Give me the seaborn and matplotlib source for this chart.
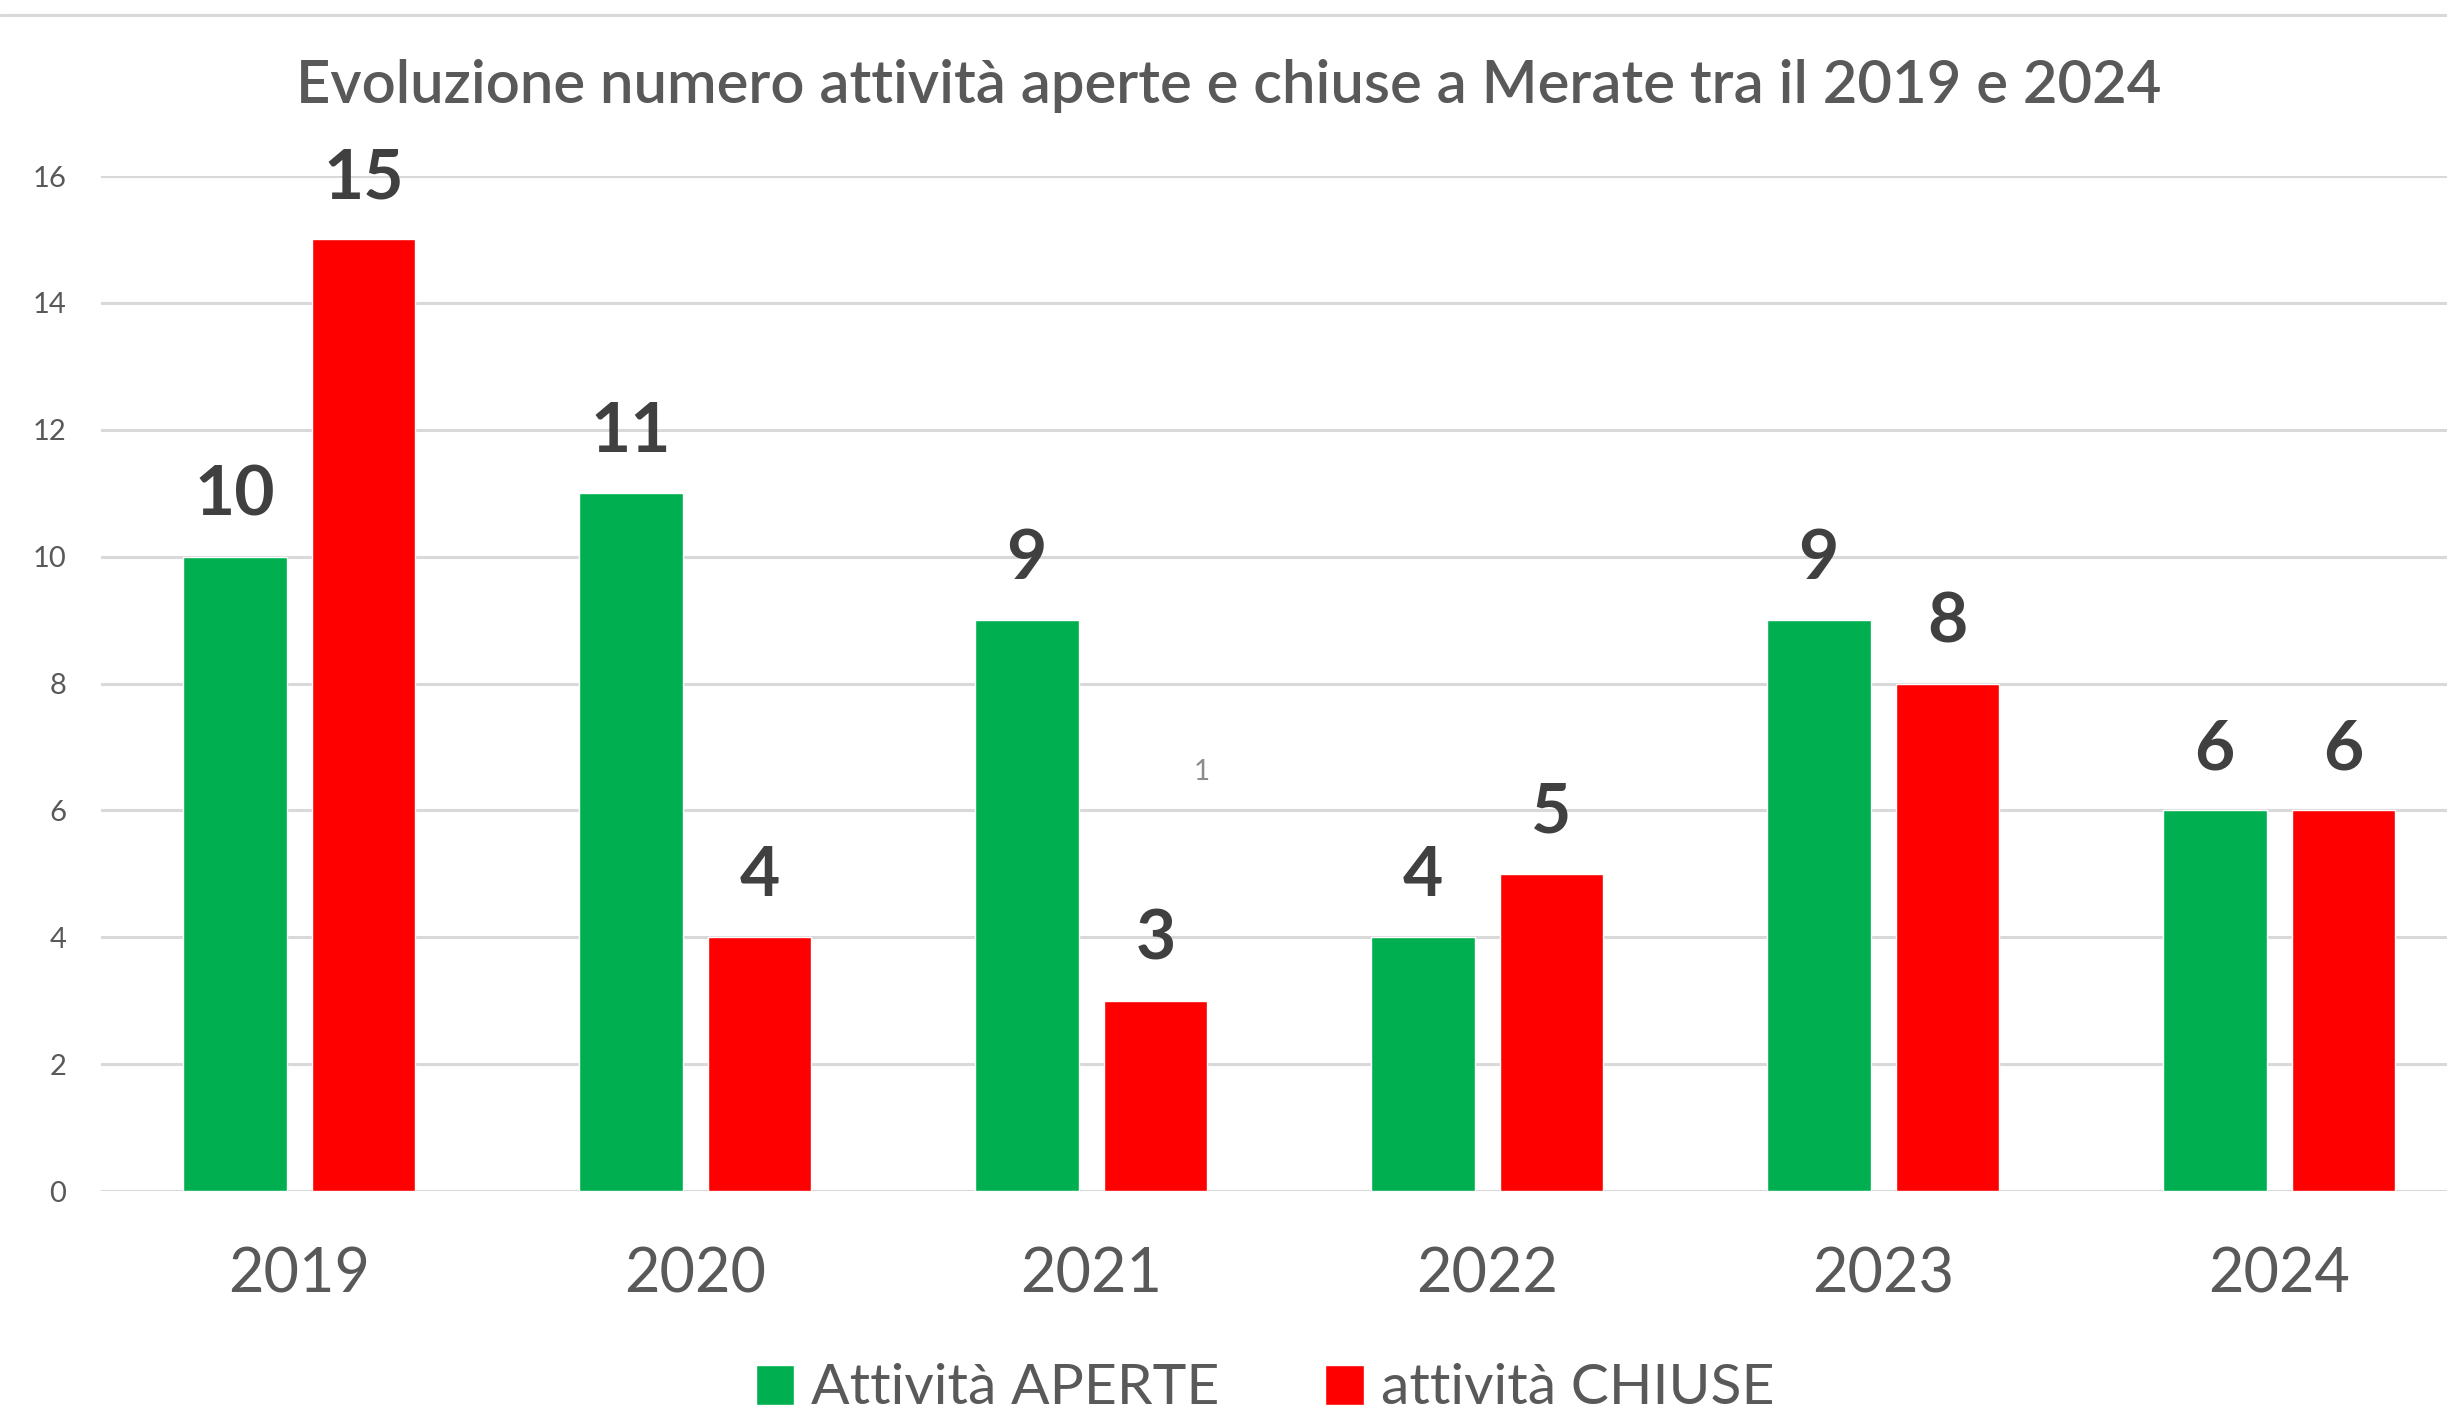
import numpy as np
import pandas as pd
import matplotlib
matplotlib.use("Agg")
import matplotlib.pyplot as plt
from matplotlib.lines import Line2D
import seaborn as sns

# Dati
anni = ["2019", "2020", "2021", "2022", "2023", "2024"]
aperte = [10, 11, 9, 4, 9, 6]
chiuse = [15, 4, 3, 5, 8, 6]
serie = ["Attività APERTE", "attività CHIUSE"]

df = pd.DataFrame({
    "anno": anni * 2,
    "valore": aperte + chiuse,
    "serie": [serie[0]] * len(anni) + [serie[1]] * len(anni),
})

verde = "#00B050"
rosso = "#FF0000"

sns.set_theme(style="white")
plt.rcParams['font.family'] = ['Lato', 'DejaVu Sans']

fig = plt.figure(figsize=(24.47, 14.13), dpi=100)
ax = fig.add_axes([0.0413, 0.1571, 0.9587, 0.7183])

sns.barplot(data=df, x="anno", y="valore", hue="serie", palette=[verde, rosso],
            width=0.651, gap=0.194, saturation=1, ax=ax, zorder=3)

for c in ax.containers:
    ax.bar_label(c, fontsize=50, fontweight="bold", color="#404040", padding=21)

ax.set_xlim(-0.5, 5.424)
ax.set_ylim(0, 16)
ax.set_yticks(range(0, 17, 2))
ax.yaxis.grid(True, color="#d9d9d9", linewidth=2.2)
ax.set_axisbelow(True)
for s in ax.spines.values():
    s.set_visible(False)
ax.tick_params(axis="y", length=0, pad=25, labelsize=21, labelcolor="#595959")
ax.tick_params(axis="x", length=0, pad=40, labelsize=44, labelcolor="#595959")
ax.set_xlabel("")
ax.set_ylabel("")

# etichetta isolata presente nel grafico originale
ax.text(2.28, 6.6, "1", fontsize=20, color="#8c8c8c", ha="center", va="center")

# legenda
h, l = ax.get_legend_handles_labels()
ax.get_legend().remove()
fig.legend(h, l, loc="center", bbox_to_anchor=(0.517, 1 - 1389 / 1413), ncol=2,
           frameon=False, fontsize=41, handlelength=0.68, handleheight=0.7,
           handletextpad=0.3, columnspacing=1.85, labelcolor="#595959")

fig.text(0.502, 1 - 86 / 1413,
         "Evoluzione numero attività aperte e chiuse a Merate tra il 2019 e 2024",
         ha="center", va="center", fontsize=43, fontweight="semibold", color="#595959")

fig.add_artist(Line2D([0, 1], [1 - 15 / 1413] * 2, color="#d9d9d9", linewidth=2.2))

fig.savefig("out.png", dpi=100)
